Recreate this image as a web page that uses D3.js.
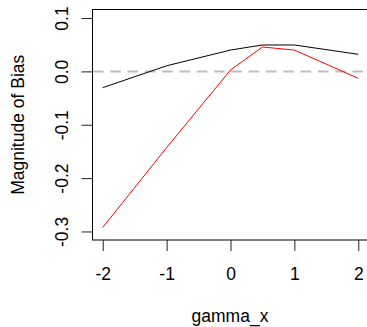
<!DOCTYPE html>
<html>
<head>
<meta charset="utf-8">
<script src="https://cdn.jsdelivr.net/npm/d3@7"></script>
<style>
  body { margin: 0; background: #fff; }
  text { font-family: 'Liberation Sans', Arial, sans-serif; font-size: 17.5px; fill: #000; }
</style>
</head>
<body>
<script>
const gammaX = [-2, -1, 0, 0.5, 1, 2]
const biasBlack = [-0.0305, 0.0105, 0.040, 0.0495, 0.0495, 0.032]
const biasRed = [-0.2925, -0.143, 0.0026, 0.0457, 0.040, -0.013]
const xTicks = [-2, -1, 0, 1, 2]
const yTicks = [-0.3, -0.2, -0.1, 0.0, 0.1]

const width = 367
const height = 327
const box = { left: 92.5, right: 368.5, top: 9.5, bottom: 240 }

// R style 4% padding on the axis ranges
const pad = (lo, hi) => [lo - (hi - lo) * 0.04, hi + (hi - lo) * 0.04]

// plain hyphen for negative numbers, like R
const locale = d3.formatLocale({ decimal: '.', thousands: ',', grouping: [3], currency: ['', ''], minus: '-' })

const x = d3.scaleLinear().domain(pad(-2, 2)).range([box.left, box.right])
const y = d3.scaleLinear().domain(pad(-0.3, 0.1)).range([box.bottom, box.top])

const svg = d3.select('body')
  .append('svg')
  .attr('width', width)
  .attr('height', height)

svg.append('defs').append('clipPath').attr('id', 'plot')
  .append('rect')
  .attr('x', box.left).attr('y', box.top)
  .attr('width', box.right - box.left).attr('height', box.bottom - box.top)

const plot = svg.append('g').attr('clip-path', 'url(#plot)')

plot.append('line')
  .attr('x1', box.left).attr('x2', box.right)
  .attr('y1', y(0)).attr('y2', y(0))
  .attr('stroke', '#bebebe')
  .attr('stroke-width', 2)
  .attr('stroke-dasharray', '10.5,6.8')
  .attr('stroke-dashoffset', -0.5)

const line = d3.line().x((d) => x(d[0])).y((d) => y(d[1]))

plot.append('path')
  .attr('d', line(d3.zip(gammaX, biasBlack)))
  .attr('fill', 'none')
  .attr('stroke', '#000')
  .attr('stroke-width', 1)

plot.append('path')
  .attr('d', line(d3.zip(gammaX, biasRed)))
  .attr('fill', 'none')
  .attr('stroke', '#ff0000')
  .attr('stroke-width', 1)

svg.append('rect')
  .attr('x', box.left).attr('y', box.top)
  .attr('width', box.right - box.left).attr('height', box.bottom - box.top)
  .attr('fill', 'none')
  .attr('stroke', '#000')
  .attr('stroke-width', 1)

const xAxis = svg.append('g')
  .attr('transform', `translate(0, ${box.bottom})`)
  .call(d3.axisBottom(x).tickValues(xTicks).tickSize(11).tickPadding(0).tickFormat(locale.format('d')))
xAxis.select('.domain').remove()
xAxis.selectAll('line').attr('stroke', '#222')
xAxis.selectAll('text')
  .attr('dy', null)
  .attr('y', 40)
  .style('font-size', '17.5px')
  .style('font-family', "'Liberation Sans', Arial, sans-serif")

const yAxis = svg.append('g')
  .attr('transform', `translate(${box.left}, 0)`)
  .call(d3.axisLeft(y).tickValues(yTicks).tickSize(11).tickFormat(locale.format('.1f')))
yAxis.select('.domain').remove()
yAxis.selectAll('line').attr('stroke', '#222')
yAxis.selectAll('text')
  .attr('x', null).attr('dy', null)
  .attr('text-anchor', 'middle')
  .attr('transform', 'translate(-24.5, 0) rotate(-90)')
  .style('font-size', '17.5px')
  .style('font-family', "'Liberation Sans', Arial, sans-serif")

svg.append('text')
  .attr('x', (box.left + box.right) / 2 - 0.5)
  .attr('y', 322)
  .attr('text-anchor', 'middle')
  .text('gamma_x')

svg.append('text')
  .attr('transform', `translate(23.5, ${(box.top + box.bottom) / 2}) rotate(-90)`)
  .attr('text-anchor', 'middle')
  .text('Magnitude of Bias')
</script>
</body>
</html>
